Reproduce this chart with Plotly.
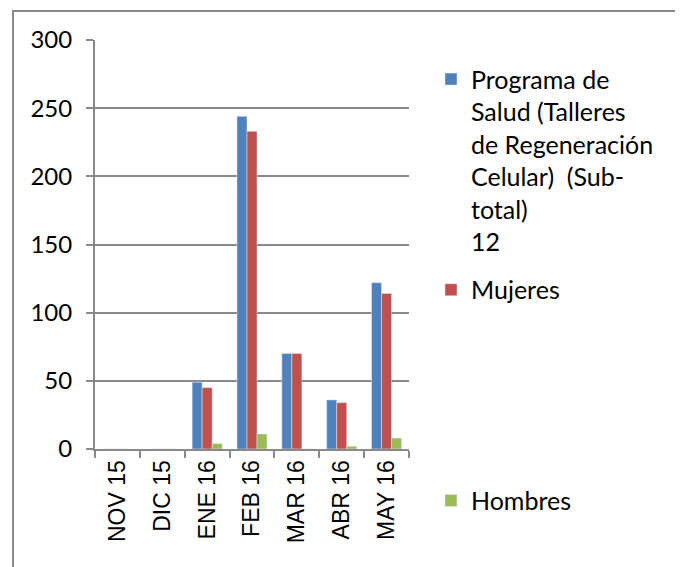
import plotly.graph_objects as go

# %% data
meses = ["NOV 15", "DIC 15", "ENE 16", "FEB 16", "MAR 16", "ABR 16", "MAY 16"]
programa = [0, 0, 49, 244, 70, 36, 122]
mujeres = [0, 0, 45, 233, 70, 34, 114]
hombres = [0, 0, 4, 11, 0, 2, 8]

nombre_programa = "Programa de<br>Salud (Talleres<br>de Regeneración<br>Celular)  (Sub-<br>total)<br>12"

GRIS = "#898989"
TEXTO = "Lato"

# %%
fig = go.Figure()
fig.add_bar(x=meses, y=programa, name=nombre_programa, marker_color="#4F81BD", legend="legend")
fig.add_bar(x=meses, y=mujeres, name="Mujeres", marker_color="#C0504D", legend="legend2")
fig.add_bar(x=meses, y=hombres, name="Hombres", marker_color="#9BBB59", legend="legend3")

leg = dict(x=1.07, xanchor="left", yanchor="top", valign="top", bgcolor="rgba(0,0,0,0)",
           font=dict(family=TEXTO, size=25, color="#000000"))

# page body has an 8px margin, so the figure is a bit smaller than the window
fig.update_layout(
    width=675, height=559,
    margin=dict(l=87, r=274, t=32, b=118),
    plot_bgcolor="white", paper_bgcolor="white",
    barmode="group", bargap=0.33, bargroupgap=0,
    legend=dict(leg, y=0.96),
    legend2=dict(leg, y=0.445),
    legend3=dict(leg, y=-0.07),
    showlegend=True,
)

fig.update_yaxes(
    range=[0, 300], dtick=50, showgrid=True, gridcolor=GRIS, gridwidth=2,
    showline=True, linecolor=GRIS, linewidth=2, ticks="outside", ticklen=7,
    tickcolor=GRIS, tickwidth=2, ticklabelstandoff=9, zeroline=False,
    tickfont=dict(family=TEXTO, size=24, color="#000000"),
)
fig.update_xaxes(
    showline=True, linecolor=GRIS, linewidth=2, ticks="outside", ticklen=7,
    tickcolor=GRIS, tickwidth=2, tickson="boundaries", tickangle=-90,
    tickfont=dict(family="Liberation Sans", size=23, color="#000000"),
)

# outer frame of the chart area
fig.add_shape(type="rect", xref="paper", yref="paper", x0=-0.261, x1=1.857, y0=-0.4, y1=1.071,
              line=dict(color=GRIS, width=2), layer="below")

fig.write_html("out.html")
